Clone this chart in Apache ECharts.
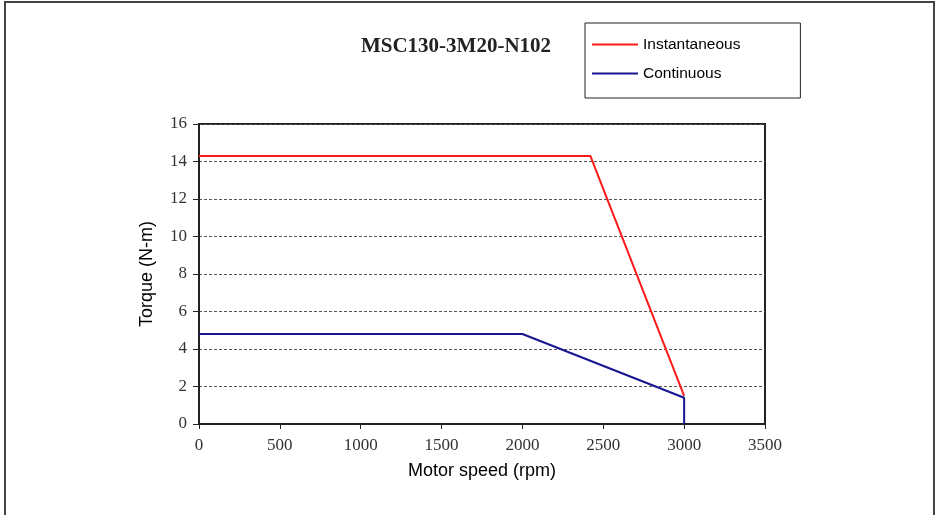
<!DOCTYPE html>
<html>
<head>
<meta charset="utf-8">
<script src="https://cdn.jsdelivr.net/npm/echarts@6/dist/echarts.min.js"></script>
<style>
  html, body { margin: 0; padding: 0; background: #fff; }
  #chart { width: 939px; height: 515px; }
</style>
</head>
<body>
<div id="chart"></div>
<script>
// MSC130-3M20-N102 torque / speed curve
var seriesNames = ['Instantaneous', 'Continuous'];
// [speed rpm, torque N-m]
var instantData = [[0, 14.3], [2420, 14.3], [3000, 1.5]];
var continuousData = [[0, 4.8], [2000, 4.8], [3000, 1.4], [3000, 0]];
var xTicks = [0, 500, 1000, 1500, 2000, 2500, 3000, 3500];
var yTicks = [0, 2, 4, 6, 8, 10, 12, 14, 16];

var chart = echarts.init(document.getElementById('chart'));

var serif = '"Liberation Serif", "DejaVu Serif", serif';
var sans = '"Liberation Sans", Arial, sans-serif';

var option = {
    animation: false,
    backgroundColor: '#fff',
    title: {
        text: 'MSC130-3M20-N102',
        left: 451,
        textAlign: 'center',
        top: 31,
        textStyle: { fontFamily: serif, fontSize: 21, fontWeight: 'bold', color: '#222' }
    },
    legend: {
        data: seriesNames,
        orient: 'vertical',
        left: 585,
        top: 23,
        icon: 'rect',
        itemWidth: 46,
        itemHeight: 2,
        itemGap: 12,
        padding: [13, 60, 16, 7],
        borderColor: '#222',
        borderWidth: 1,
        textStyle: { fontFamily: sans, fontSize: 15.5, color: '#000', lineHeight: 17 }
    },
    graphic: [{
        type: 'rect',
        shape: { x: 5, y: 2, width: 929, height: 540 },
        style: { fill: 'none', stroke: '#444', lineWidth: 2 },
        silent: true
    }],
    grid: {
        left: 199,
        right: 174,
        top: 124,
        bottom: 91,
        show: true,
        borderColor: '#222',
        borderWidth: 2
    },
    xAxis: {
        type: 'value',
        min: xTicks[0],
        max: xTicks[xTicks.length - 1],
        interval: 500,
        name: 'Motor speed (rpm)',
        nameLocation: 'middle',
        nameGap: 38,
        nameTextStyle: { fontFamily: sans, fontSize: 18, color: '#000' },
        axisLine: { lineStyle: { color: '#222', width: 2 } },
        axisTick: { show: true, length: 5, lineStyle: { color: '#222' } },
        axisLabel: {
            fontFamily: serif, fontSize: 17, color: '#333', margin: 13,
            formatter: function (v) { return String(v); }
        },
        splitLine: { show: false }
    },
    yAxis: {
        type: 'value',
        min: yTicks[0],
        max: yTicks[yTicks.length - 1],
        interval: 2,
        name: 'Torque (N-m)',
        nameLocation: 'middle',
        nameGap: 43,
        nameTextStyle: { fontFamily: sans, fontSize: 18, color: '#000' },
        axisLine: { show: true, lineStyle: { color: '#222', width: 2 } },
        axisTick: { show: true, length: 6, lineStyle: { color: '#222' } },
        axisLabel: { fontFamily: serif, fontSize: 17, color: '#333', margin: 12 },
        splitLine: { show: true, lineStyle: { color: '#555', type: [3, 2], width: 1 } }
    },
    series: [
        {
            name: seriesNames[0],
            type: 'line',
            data: instantData,
            showSymbol: false,
            symbol: 'none',
            lineStyle: { color: '#ff1a1a', width: 2 },
            itemStyle: { color: '#ff1a1a' },
            z: 3
        },
        {
            name: seriesNames[1],
            type: 'line',
            data: continuousData,
            showSymbol: false,
            symbol: 'none',
            lineStyle: { color: '#161690', width: 2 },
            itemStyle: { color: '#161690' },
            z: 4
        }
    ]
};

chart.setOption(option);
</script>
</body>
</html>
